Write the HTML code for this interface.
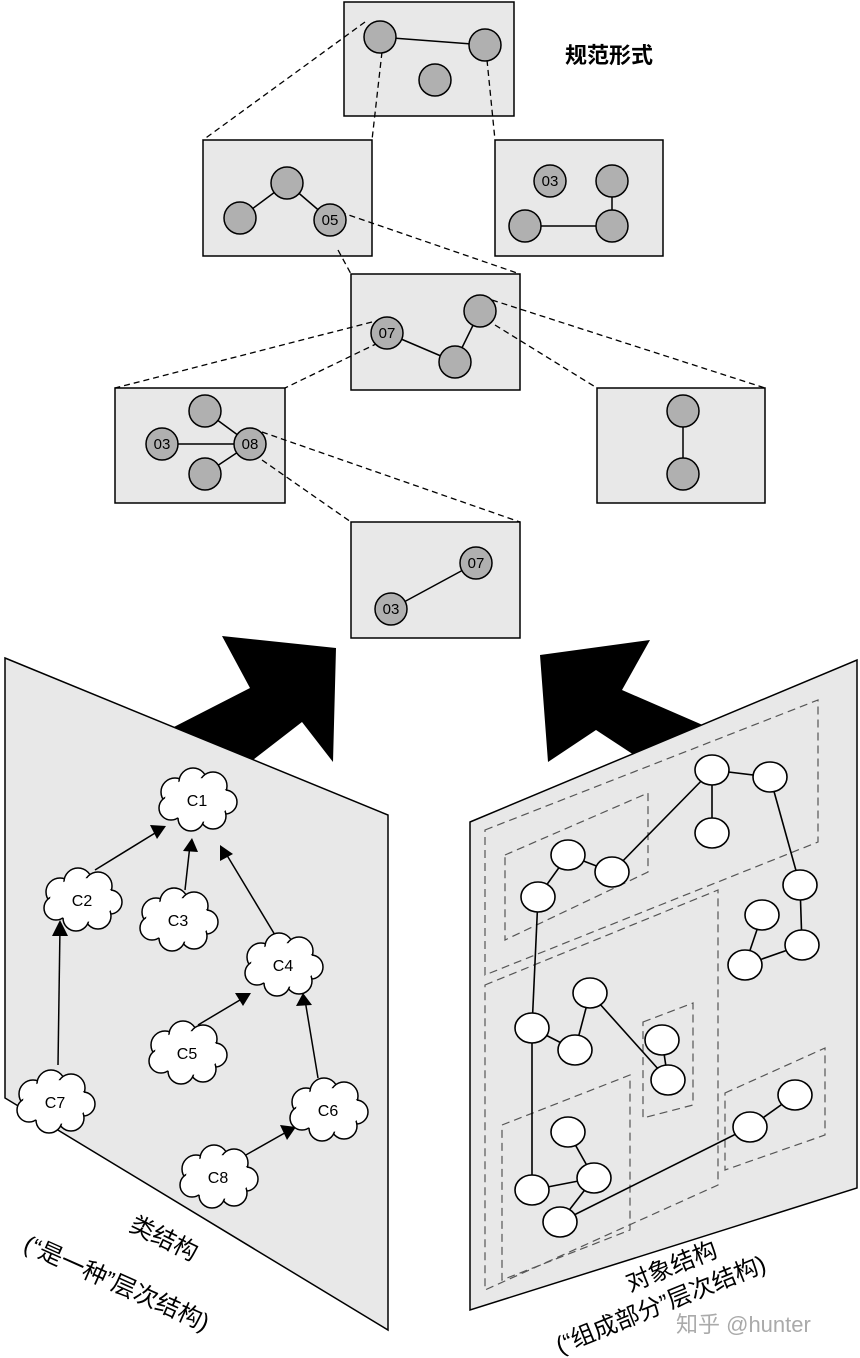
<!DOCTYPE html>
<html><head><meta charset="utf-8"><style>
html,body{margin:0;padding:0;background:#fff;}
svg{display:block;font-family:"Liberation Sans","Noto Sans CJK SC",sans-serif;}
</style></head><body>
<svg width="860" height="1358" viewBox="0 0 860 1358" xmlns="http://www.w3.org/2000/svg">
<defs>
<g id="cloud">
<g fill="#fff" stroke="#000" stroke-width="1.5">
<circle cx="-22" cy="-8" r="14"/><circle cx="-4" cy="-18" r="14"/><circle cx="16" cy="-14" r="14"/>
<circle cx="28" cy="2" r="12"/><circle cx="16" cy="16" r="13"/><circle cx="-6" cy="18" r="13"/><circle cx="-26" cy="8" r="12"/>
</g>
<ellipse cx="0" cy="0" rx="32" ry="22" fill="#fff"/>
</g>
</defs>

<g fill="#e8e8e8" stroke="#000" stroke-width="1.5">
<rect x="344" y="2" width="170" height="114"/>
<rect x="203" y="140" width="169" height="116"/>
<rect x="495" y="140" width="168" height="116"/>
<rect x="351" y="274" width="169" height="116"/>
<rect x="115" y="388" width="170" height="115"/>
<rect x="597" y="388" width="168" height="115"/>
<rect x="351" y="522" width="169" height="116"/>
</g>
<g stroke="#000" stroke-width="1.3" stroke-dasharray="6,4" fill="none">
<line x1="365" y1="22" x2="203" y2="140"/>
<line x1="382" y1="52" x2="372" y2="140"/>
<line x1="487" y1="60" x2="495" y2="140"/>
<line x1="340" y1="212" x2="520" y2="274"/>
<line x1="338" y1="250" x2="351" y2="274"/>
<line x1="372" y1="322" x2="115" y2="388"/>
<line x1="378" y1="343" x2="285" y2="388"/>
<line x1="492" y1="300" x2="765" y2="388"/>
<line x1="495" y1="325" x2="597" y2="388"/>
<line x1="262" y1="432" x2="520" y2="522"/>
<line x1="262" y1="460" x2="351" y2="522"/>
</g>
<g stroke="#000" stroke-width="1.5">
<line x1="380" y1="37" x2="485" y2="45"/>
<line x1="287" y1="183" x2="240" y2="218"/><line x1="287" y1="183" x2="330" y2="220"/>
<line x1="525" y1="226" x2="612" y2="226"/><line x1="612" y1="181" x2="612" y2="226"/>
<line x1="387" y1="333" x2="455" y2="362"/><line x1="455" y1="362" x2="480" y2="311"/>
<line x1="162" y1="444" x2="250" y2="444"/><line x1="205" y1="411" x2="250" y2="444"/><line x1="205" y1="474" x2="250" y2="444"/>
<line x1="683" y1="411" x2="683" y2="474"/>
<line x1="476" y1="563" x2="391" y2="609"/>
</g>
<g fill="#b0b0b0" stroke="#000" stroke-width="1.5">
<circle cx="380" cy="37" r="16"/><circle cx="485" cy="45" r="16"/><circle cx="435" cy="80" r="16"/>
<circle cx="287" cy="183" r="16"/><circle cx="240" cy="218" r="16"/><circle cx="330" cy="220" r="16"/>
<circle cx="550" cy="181" r="16"/><circle cx="612" cy="181" r="16"/><circle cx="525" cy="226" r="16"/><circle cx="612" cy="226" r="16"/>
<circle cx="480" cy="311" r="16"/><circle cx="387" cy="333" r="16"/><circle cx="455" cy="362" r="16"/>
<circle cx="205" cy="411" r="16"/><circle cx="162" cy="444" r="16"/><circle cx="250" cy="444" r="16"/><circle cx="205" cy="474" r="16"/>
<circle cx="683" cy="411" r="16"/><circle cx="683" cy="474" r="16"/>
<circle cx="476" cy="563" r="16"/><circle cx="391" cy="609" r="16"/>
</g>
<g font-size="15" text-anchor="middle" fill="#000">
<text x="330" y="225">05</text><text x="550" y="186">03</text><text x="387" y="338">07</text>
<text x="162" y="449">03</text><text x="250" y="449">08</text><text x="476" y="568">07</text><text x="391" y="614">03</text>
</g>
<text x="565" y="63" font-size="22" fill="#000" font-weight="bold">规范形式</text>

<polygon points="168,730 250,688 222,636 336,648 333,762 302,722 240,770" fill="#000"/>
<polygon points="540,655 650,640 622,690 705,726 660,772 596,730 548,762" fill="#000"/>

<polygon points="5,658 388,815 388,1330 5,1098" fill="#e8e8e8" stroke="#000" stroke-width="1.5"/>
<g stroke="#000" stroke-width="1.5">
<line x1="95" y1="870" x2="160" y2="830"/>
<line x1="185" y1="890" x2="190" y2="845"/>
<line x1="275" y1="935" x2="225" y2="852"/>
<line x1="198" y1="1025" x2="245" y2="997"/>
<line x1="318" y1="1078" x2="305" y2="1000"/>
<line x1="58" y1="1065" x2="60" y2="927"/>
<line x1="237" y1="1160" x2="290" y2="1130"/>
</g>
<g fill="#000">
<polygon points="166,826 150,825 157,839"/>
<polygon points="192,838 183,851 198,852"/>
<polygon points="220,845 220,861 233,854"/>
<polygon points="251,993 235,993 243,1006"/>
<polygon points="303,993 296,1006 312,1005"/>
<polygon points="60,920 52,936 68,936"/>
<polygon points="296,1127 280,1125 287,1140"/>
</g>
<g font-size="16" text-anchor="middle" fill="#000">
<use href="#cloud" x="197" y="800"/><text x="197" y="806">C1</text>
<use href="#cloud" x="82" y="900"/><text x="82" y="906">C2</text>
<use href="#cloud" x="178" y="920"/><text x="178" y="926">C3</text>
<use href="#cloud" x="283" y="965"/><text x="283" y="971">C4</text>
<use href="#cloud" x="187" y="1053"/><text x="187" y="1059">C5</text>
<use href="#cloud" x="328" y="1110"/><text x="328" y="1116">C6</text>
<use href="#cloud" x="55" y="1102"/><text x="55" y="1108">C7</text>
<use href="#cloud" x="218" y="1177"/><text x="218" y="1183">C8</text>
</g>
<g font-size="24" fill="#000">
<text transform="translate(128,1230) rotate(26)">类结构</text>
<text transform="translate(22,1250) rotate(24)">(“是一种”层次结构)</text>
</g>

<polygon points="470,822 857,660 857,1188 470,1310" fill="#e8e8e8" stroke="#000" stroke-width="1.5"/>
<g fill="none" stroke="#555" stroke-width="1.2" stroke-dasharray="8,5">
<polygon points="485,830 818,700 818,842 485,975"/>
<polygon points="505,855 648,793 648,872 505,940"/>
<polygon points="485,985 718,890 718,1185 485,1290"/>
<polygon points="502,1125 630,1075 630,1230 502,1280"/>
<polygon points="643,1022 693,1003 693,1105 643,1118"/>
<polygon points="725,1093 825,1048 825,1135 725,1170"/>
</g>
<g stroke="#000" stroke-width="1.6">
<line x1="712" y1="770" x2="770" y2="777"/><line x1="712" y1="770" x2="712" y2="833"/>
<line x1="770" y1="777" x2="800" y2="885"/><line x1="800" y1="885" x2="802" y2="945"/>
<line x1="802" y1="945" x2="745" y2="965"/><line x1="762" y1="915" x2="745" y2="965"/>
<line x1="712" y1="770" x2="612" y2="872"/><line x1="612" y1="872" x2="568" y2="855"/>
<line x1="568" y1="855" x2="538" y2="897"/><line x1="538" y1="897" x2="532" y2="1028"/>
<line x1="532" y1="1028" x2="575" y2="1050"/><line x1="575" y1="1050" x2="590" y2="993"/>
<line x1="590" y1="993" x2="668" y2="1080"/><line x1="662" y1="1040" x2="668" y2="1080"/>
<line x1="532" y1="1028" x2="532" y2="1190"/><line x1="532" y1="1190" x2="594" y2="1178"/>
<line x1="568" y1="1132" x2="594" y2="1178"/><line x1="594" y1="1178" x2="560" y2="1222"/>
<line x1="560" y1="1222" x2="750" y2="1127"/><line x1="750" y1="1127" x2="795" y2="1095"/>
</g>
<g fill="#fff" stroke="#000" stroke-width="1.6">
<ellipse cx="712" cy="770" rx="17" ry="15"/><ellipse cx="770" cy="777" rx="17" ry="15"/>
<ellipse cx="712" cy="833" rx="17" ry="15"/><ellipse cx="568" cy="855" rx="17" ry="15"/>
<ellipse cx="612" cy="872" rx="17" ry="15"/><ellipse cx="538" cy="897" rx="17" ry="15"/>
<ellipse cx="800" cy="885" rx="17" ry="15"/><ellipse cx="762" cy="915" rx="17" ry="15"/>
<ellipse cx="802" cy="945" rx="17" ry="15"/><ellipse cx="745" cy="965" rx="17" ry="15"/>
<ellipse cx="590" cy="993" rx="17" ry="15"/><ellipse cx="532" cy="1028" rx="17" ry="15"/>
<ellipse cx="575" cy="1050" rx="17" ry="15"/><ellipse cx="662" cy="1040" rx="17" ry="15"/>
<ellipse cx="668" cy="1080" rx="17" ry="15"/><ellipse cx="568" cy="1132" rx="17" ry="15"/>
<ellipse cx="594" cy="1178" rx="17" ry="15"/><ellipse cx="532" cy="1190" rx="17" ry="15"/>
<ellipse cx="560" cy="1222" rx="17" ry="15"/><ellipse cx="750" cy="1127" rx="17" ry="15"/>
<ellipse cx="795" cy="1095" rx="17" ry="15"/>
</g>
<g font-size="24" fill="#000">
<text transform="translate(630,1292) rotate(-22)">对象结构</text>
<text transform="translate(560,1354) rotate(-22)">(“组成部分”层次结构)</text>
</g>
<text x="676" y="1332" font-size="22" fill="#aaa">知乎 @hunter</text>
</svg>
</body></html>
